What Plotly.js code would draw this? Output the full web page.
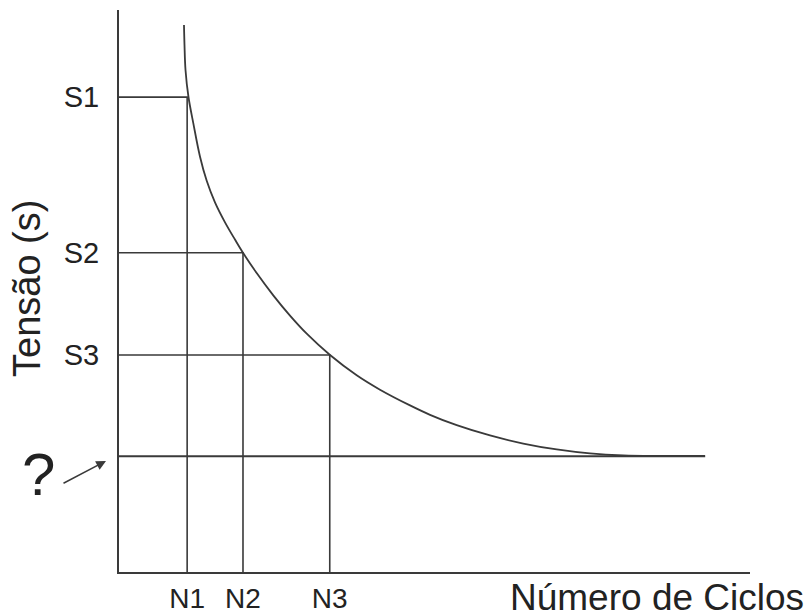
<!DOCTYPE html>
<html>
<head>
<meta charset="utf-8">
<script src="https://cdn.plot.ly/plotly-3.0.1.min.js"></script>
<style>html,body{margin:0;padding:0;background:#fff;}#chart{width:808px;height:616px;}</style>
</head>
<body>
<div id="chart"></div>
<script>
// S-N (Wöhler) curve, arbitrary units (0-100 on both axes)
const curveN = [10.30, 10.38, 10.54, 11.01, 11.78, 12.84, 13.90, 15.21, 16.80, 18.38, 19.70, 21.82, 24.45, 27.10, 29.75, 33.44, 37.67, 41.36, 46.12, 49.29, 53.52, 58.80, 64.07, 69.37, 74.64, 79.92, 85.74, 92.87];
const curveS = [97.33, 93.77, 89.32, 84.52, 79.84, 73.90, 69.61, 65.77, 62.21, 59.15, 56.71, 53.20, 49.23, 45.62, 42.40, 38.61, 35.00, 32.44, 29.64, 27.97, 26.12, 24.29, 22.86, 21.80, 21.09, 20.73, 20.64, 20.64];
const levelS = [84.5, 56.8, 38.6];
const levelN = [10.8, 19.65, 33.4];
const levelSLabels = ["S1", "S2", "S3"];
const levelNLabels = ["N1", "N2", "N3"];
const enduranceS = 20.6;
const enduranceEndN = 92.9;
const unknownLabel = "?";
const xTitle = "Número de Ciclos";
const yTitle = "Tensão (s)";

const lineColor = "#3a3a3a";
const font = "Liberation Sans, Arial, sans-serif";

const traces = [];
levelS.forEach((s, i) => {
  traces.push({
    type: "scatter", mode: "lines",
    x: [0, levelN[i], levelN[i]], y: [s, s, 0],
    line: {color: lineColor, width: 1.6},
    hoverinfo: "skip", showlegend: false
  });
});
traces.push({
  type: "scatter", mode: "lines",
  x: [0, enduranceEndN], y: [enduranceS, enduranceS],
  line: {color: lineColor, width: 1.8},
  hoverinfo: "skip", showlegend: false
});
traces.push({
  type: "scatter", mode: "lines",
  x: curveN, y: curveS,
  line: {color: lineColor, width: 1.8, shape: "spline", smoothing: 1},
  hoverinfo: "skip", showlegend: false
});

const W = 808, H = 616, L = 119, R = 58, T = 10, B = 44;
const pw = W - L - R, ph = H - T - B;
const px = v => (v - L) / pw;
const py = v => (H - B - v) / ph;

const layout = {
  width: W, height: H,
  margin: {l: L, r: R, t: T, b: B, pad: 0},
  paper_bgcolor: "#fff", plot_bgcolor: "#fff",
  font: {family: font, color: "#222"},
  showlegend: false,
  xaxis: {
    range: [0, 100], showgrid: false, zeroline: false,
    showline: true, linecolor: lineColor, linewidth: 2,
    tickvals: levelN, ticktext: levelNLabels, ticks: "",
    ticklabelstandoff: 0,
    tickfont: {family: font, size: 28, color: "#222"}
  },
  yaxis: {
    range: [0, 100], showgrid: false, zeroline: false,
    showline: true, linecolor: lineColor, linewidth: 2,
    tickvals: levelS, ticktext: levelSLabels, ticks: "",
    ticklabelstandoff: 12,
    tickfont: {family: font, size: 29, color: "#222"}
  },
  annotations: [
    {xref: "paper", yref: "paper", x: px(805), y: py(597), xanchor: "right", yanchor: "middle",
     text: xTitle, showarrow: false, borderpad: 0, font: {family: font, size: 37, color: "#222"}},
    {xref: "paper", yref: "paper", x: px(27), y: py(289), xanchor: "center", yanchor: "middle",
     text: yTitle, textangle: -90, showarrow: false, font: {family: font, size: 38, color: "#222"}},
    {xref: "paper", yref: "paper", x: px(38), y: py(474), xanchor: "center", yanchor: "middle",
     text: unknownLabel, showarrow: false, font: {family: font, size: 60, color: "#222"}},
    {xref: "paper", yref: "paper", x: px(106), y: py(461), axref: "pixel", ayref: "pixel",
     ax: -44, ay: 23, text: "", showarrow: true, arrowhead: 2, arrowsize: 1.3, arrowwidth: 1.5,
     arrowcolor: lineColor}
  ]
};

Plotly.newPlot("chart", traces, layout, {staticPlot: true, displayModeBar: false});
</script>
</body>
</html>
